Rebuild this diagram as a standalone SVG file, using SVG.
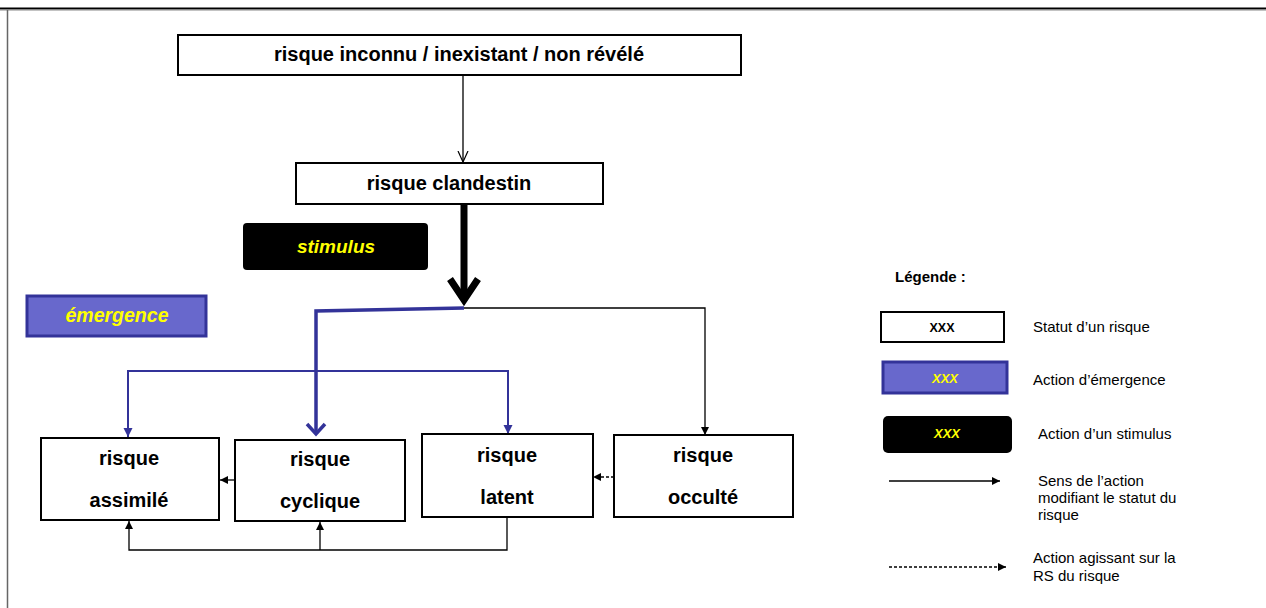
<svg xmlns="http://www.w3.org/2000/svg" width="1266" height="608" viewBox="0 0 1266 608">
  <defs>
    <style>
      .node { fill: #ffffff; stroke: #000000; stroke-width: 2; }
      .ntxt { font-family: "Liberation Sans", Arial, sans-serif; font-weight: bold; font-size: 20px; fill: #000000; text-anchor: middle; }
      .act { font-family: "Liberation Sans", Arial, sans-serif; font-weight: bold; font-style: italic; fill: #ffff00; text-anchor: middle; }
      .emer { fill: #6868cc; stroke: #333399; stroke-width: 3; }
      .stim { fill: #000000; }
      .leg { font-family: "Liberation Sans", Arial, sans-serif; font-size: 15px; fill: #000000; }
      .conn { fill: none; stroke: #000000; stroke-width: 1.3; }
      .blue { fill: none; stroke: #333399; stroke-width: 2; }
      .dash { stroke-dasharray: 3 2; }
    </style>
    <marker id="triB" viewBox="0 0 10 10" refX="10" refY="5" markerWidth="8" markerHeight="9" markerUnits="userSpaceOnUse" orient="auto">
      <path d="M0,0 L10,5 L0,10 z" fill="#000000"/>
    </marker>
    <marker id="triBlue" viewBox="0 0 10 10" refX="10" refY="5" markerWidth="9" markerHeight="10" markerUnits="userSpaceOnUse" orient="auto">
      <path d="M0,0 L10,5 L0,10 z" fill="#333399"/>
    </marker>
    <marker id="openV" viewBox="0 0 12 12" refX="11" refY="6" markerWidth="12" markerHeight="12" markerUnits="userSpaceOnUse" orient="auto">
      <path d="M0,1 L11,6 L0,11" fill="none" stroke="#000000" stroke-width="1.2"/>
    </marker>
  </defs>

  <rect x="0" y="0" width="1266" height="608" fill="#ffffff"/>
  <!-- frame -->
  <line x1="0" y1="8.5" x2="1266" y2="8.5" stroke="#000000" stroke-width="2"/>
  <line x1="0" y1="10" x2="1266" y2="10" stroke="#888888" stroke-width="1"/>
  <line x1="7.5" y1="10" x2="7.5" y2="608" stroke="#666666" stroke-width="1.5"/>

  <!-- connectors -->
  <g id="connectors">
    <line class="conn" x1="463" y1="76" x2="463" y2="162" marker-end="url(#openV)"/>
    <line x1="464" y1="205" x2="464" y2="300" stroke="#000000" stroke-width="7"/>
    <polyline points="450,279 464,300 478,279" fill="none" stroke="#000000" stroke-width="7" stroke-linejoin="miter" stroke-miterlimit="10"/>
    <path class="conn" d="M464,308 L705,308 L705,435" marker-end="url(#triB)"/>
    <path d="M464,308 L316,311 L316,434" fill="none" stroke="#333399" stroke-width="3.5"/>
    <polyline points="307,424 316,434 325,424" fill="none" stroke="#333399" stroke-width="3.5" stroke-linejoin="miter"/>
    <path class="blue" d="M128,437 L128,371 L508,371 L508,434" marker-end="url(#triBlue)"/>
    <line class="blue" x1="128" y1="372" x2="128" y2="437" marker-end="url(#triBlue)"/>
    <line class="conn" x1="235" y1="480" x2="220" y2="480" marker-end="url(#triB)"/>
    <line class="conn dash" x1="614" y1="477" x2="593" y2="477" marker-end="url(#triB)"/>
    <path class="conn" d="M507,518 L507,550 L129,550 L129,521" marker-end="url(#triB)"/>
    <line class="conn" x1="320" y1="550" x2="320" y2="522" marker-end="url(#triB)"/>
  </g>

  <!-- nodes -->
  <g id="n-inconnu">
    <rect class="node" x="178" y="35" width="563" height="40"/>
    <text class="ntxt" x="459" y="61">risque inconnu / inexistant / non révélé</text>
  </g>
  <g id="n-clandestin">
    <rect class="node" x="296" y="163" width="307" height="41"/>
    <text class="ntxt" x="449" y="190">risque clandestin</text>
  </g>
  <g id="n-stimulus">
    <rect class="stim" x="243" y="223" width="185" height="47" rx="4"/>
    <text class="act" x="336" y="253" font-size="19">stimulus</text>
  </g>
  <g id="n-emergence">
    <rect class="emer" x="27" y="296" width="179" height="40"/>
    <text class="act" x="117" y="322" font-size="19.5">émergence</text>
  </g>
  <g id="n-assimile">
    <rect class="node" x="41" y="438" width="178" height="82"/>
    <text class="ntxt" x="129" y="465">risque</text>
    <text class="ntxt" x="129" y="507">assimilé</text>
  </g>
  <g id="n-cyclique">
    <rect class="node" x="235" y="440" width="170" height="81"/>
    <text class="ntxt" x="320" y="466">risque</text>
    <text class="ntxt" x="320" y="508">cyclique</text>
  </g>
  <g id="n-latent">
    <rect class="node" x="422" y="434" width="171" height="83"/>
    <text class="ntxt" x="507" y="462">risque</text>
    <text class="ntxt" x="507" y="504">latent</text>
  </g>
  <g id="n-occulte">
    <rect class="node" x="614" y="435" width="179" height="82"/>
    <text class="ntxt" x="703" y="462">risque</text>
    <text class="ntxt" x="703" y="504">occulté</text>
  </g>

  <!-- legend -->
  <g id="legend">
    <text class="leg" x="895" y="282" font-weight="bold">Légende :</text>
    <rect class="node" x="881" y="312" width="123" height="30" stroke-width="1.8"/>
    <text class="ntxt" x="942" y="332" style="font-size:12.5px">XXX</text>
    <text class="leg" x="1033" y="332">Statut d’un risque</text>
    <rect class="emer" x="883" y="362" width="124" height="31"/>
    <text class="act" x="945" y="383" font-size="13" font-weight="normal">XXX</text>
    <text class="leg" x="1033" y="385">Action d’émergence</text>
    <rect class="stim" x="883" y="416" width="129" height="37" rx="5"/>
    <text class="act" x="947" y="438" font-size="13" font-weight="normal">XXX</text>
    <text class="leg" x="1038" y="439">Action d’un stimulus</text>
    <line class="conn" x1="889" y1="481" x2="1000" y2="481" marker-end="url(#triB)"/>
    <text class="leg" x="1038" y="486">Sens de l’action</text>
    <text class="leg" x="1038" y="503">modifiant le statut du</text>
    <text class="leg" x="1038" y="520">risque</text>
    <line class="conn dash" x1="889" y1="567" x2="1006" y2="567" marker-end="url(#triB)"/>
    <text class="leg" x="1033" y="563">Action agissant sur la</text>
    <text class="leg" x="1033" y="581">RS du risque</text>
  </g>
</svg>
